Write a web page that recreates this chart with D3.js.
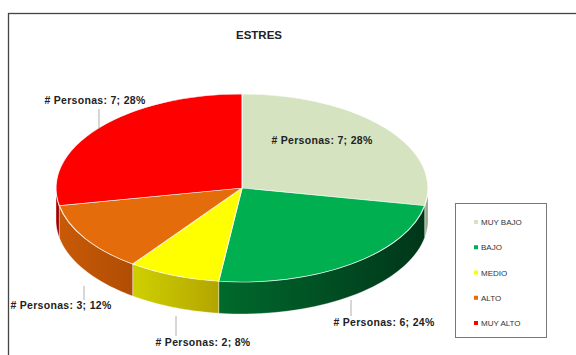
<!DOCTYPE html>
<html><head><meta charset="utf-8">
<script src="https://cdn.jsdelivr.net/npm/d3@7"></script>
<style>body{margin:0;background:#fff}svg{display:block}</style>
</head><body>
<svg id="c" width="576" height="355"></svg>
<script>
const categories = ["MUY BAJO", "BAJO", "MEDIO", "ALTO", "MUY ALTO"];
const values = [7, 6, 2, 3, 7];
const percentLabels = ["28%", "24%", "8%", "12%", "28%"];
const topColors = ["#d5e3c0", "#00b050", "#ffff00", "#e46c0a", "#ff0000"];
const sideColorsA = ["#a9b895", "#006a2c", "#cfd000", "#c85a06", "#b00000"];
const sideColorsB = ["#8e9c7c", "#00361a", "#b3a500", "#b04d04", "#900000"];
const title = "ESTRES";

(function () {
const svg = d3.select("#c");
svg.append("rect").attr("x", 8.5).attr("y", 13.5).attr("width", 600).attr("height", 400)
  .attr("fill", "#fff").attr("stroke", "#444").attr("stroke-width", 1.3);

svg.append("text").attr("x", 259).attr("y", 39).attr("text-anchor", "middle")
  .attr("font-family", "Liberation Sans, Arial, sans-serif").attr("font-weight", "bold")
  .attr("font-size", 11.5).attr("fill", "#222").text(title);

const cx = 242, cy = 188, rx = 186, ry = 94, depth = 32;
const pieData = d3.pie().sort(null).value(d => d)(values);

const defs = svg.append("defs");
pieData.forEach((p, i) => {
  const g = defs.append("linearGradient").attr("id", "sg" + i)
    .attr("x1", "0").attr("x2", "1").attr("y1", "0").attr("y2", "0");
  g.append("stop").attr("offset", "0").attr("stop-color", sideColorsA[i]);
  g.append("stop").attr("offset", "1").attr("stop-color", sideColorsB[i]);
});

const px = a => cx + rx * Math.sin(a);
const py = a => cy - ry * Math.cos(a);

const sides = svg.append("g");
pieData.forEach((p, i) => {
  const a0 = Math.max(p.startAngle, Math.PI / 2);
  const a1 = Math.min(p.endAngle, 3 * Math.PI / 2);
  if (a1 <= a0) return;
  const n = 40;
  const angs = d3.range(n + 1).map(k => a0 + (a1 - a0) * k / n);
  const topPts = angs.map(a => [px(a), py(a)]);
  const botPts = angs.slice().reverse().map(a => [px(a), py(a) + depth]);
  sides.append("path")
    .attr("d", d3.line()(topPts.concat(botPts)) + "Z")
    .attr("fill", `url(#sg${i})`)
    .attr("stroke", "#fff").attr("stroke-width", 0.6).attr("stroke-opacity", 0.6);
});

const arc = d3.arc().innerRadius(0).outerRadius(rx);
const face = svg.append("g").attr("transform", `translate(${cx},${cy}) scale(1,${ry / rx})`);
face.selectAll("path").data(pieData).join("path")
  .attr("d", arc)
  .attr("fill", (d, i) => topColors[i])
  .attr("stroke", "#fff").attr("stroke-width", 1.2).attr("stroke-opacity", 0.8);

const font = "Liberation Sans, Arial, sans-serif";
const labelPos = [
  {x: 322, y: 144, lx: null},
  {x: 384, y: 326, lx: 351, ly0: 300, ly1: 316},
  {x: 203, y: 346, lx: 176, ly0: 316, ly1: 336},
  {x: 61, y: 309, lx: 84, ly0: 286, ly1: 300},
  {x: 95, y: 104, lx: 99, ly0: 109, ly1: 128}
];
pieData.forEach((p, i) => {
  const lp = labelPos[i];
  if (lp.lx !== null) {
    svg.append("line").attr("x1", lp.lx).attr("x2", lp.lx).attr("y1", lp.ly0).attr("y2", lp.ly1)
      .attr("stroke", "#999").attr("stroke-width", 0.8);
  }
  svg.append("text").attr("x", lp.x).attr("y", lp.y).attr("text-anchor", "middle")
    .attr("font-family", font).attr("font-weight", "bold").attr("font-size", 10.5)
    .attr("letter-spacing", 0.3)
    .attr("fill", "#222").text(`# Personas: ${p.data}; ${percentLabels[i]}`);
});

const lg = svg.append("g");
lg.append("rect").attr("x", 455.5).attr("y", 203.5).attr("width", 91).attr("height", 134)
  .attr("fill", "#fff").attr("stroke", "#777").attr("stroke-width", 1);
const ly = d3.scalePoint().domain(categories).range([222, 323]);
categories.forEach((c, i) => {
  lg.append("rect").attr("x", 474).attr("y", ly(c) - 2).attr("width", 4).attr("height", 4)
    .attr("fill", topColors[i]);
  lg.append("text").attr("x", 481).attr("y", ly(c) + 3)
    .attr("font-family", font).attr("font-size", 8).attr("fill", "#333").text(c);
});
})();
</script>
</body></html>
